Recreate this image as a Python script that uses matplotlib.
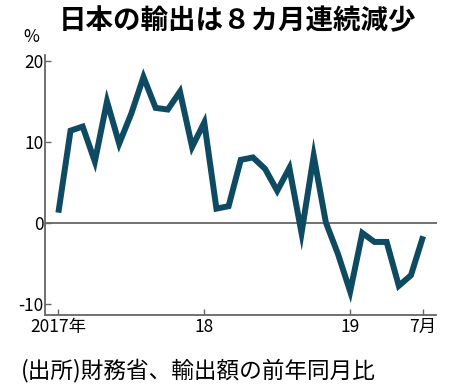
import numpy as np
import matplotlib
matplotlib.use("Agg")
import matplotlib.pyplot as plt

plt.rcParams['font.family'] = ['Noto Sans CJK JP', 'DejaVu Sans']

# ==========================
# data: export YoY change (%), Jan 2017 - Jul 2019
# ==========================
values_2017 = [1.3, 11.4, 11.9, 7.6, 15.0, 9.8, 13.5, 18.0, 14.2, 14.0, 16.2, 9.4]
values_2018 = [12.4, 1.8, 2.1, 7.8, 8.1, 6.7, 4.0, 6.8, -1.2, 8.3, 0.1, -3.8]
values_2019 = [-8.4, -1.2, -2.3, -2.3, -7.7, -6.4, -1.6]
values = values_2017 + values_2018 + values_2019
months = np.arange(len(values))

xtick_pos = [0, 12, 24, 30]
xtick_labels = ["2017年", "18", "19", "7月"]
ytick_pos = [-10, 0, 10, 20]
ytick_labels = ["-10", "0", "10", "20"]

title = "日本の輸出は８カ月連続減少"
source = "(出所)財務省、輸出額の前年同月比"

line_color = "#0f4a63"
axis_color = "#666666"

# ==========================
# figure
# ==========================
fig = plt.figure(figsize=(4.5, 3.88), dpi=100)
ax = fig.add_axes([0.1, 0.188, 0.87, 0.67])

ax.axhline(0, color=axis_color, lw=1.3, zorder=1)
ax.plot(months, values, color=line_color, lw=4.3, solid_joinstyle="miter",
        solid_capstyle="butt", zorder=3)

ax.set_xlim(-1.1, 31.1)
ax.set_ylim(-11.3, 20.7)

ax.set_xticks(xtick_pos)
ax.set_xticklabels(xtick_labels, fontsize=12.5)
ax.set_yticks(ytick_pos)
ax.set_yticklabels(ytick_labels, fontsize=12.5)
ax.tick_params(direction="in", length=4, width=1, color=axis_color, pad=2)
ax.tick_params(axis="y", pad=1)

for side in ["top", "right"]:
    ax.spines[side].set_visible(False)
for side in ["left", "bottom"]:
    ax.spines[side].set_color(axis_color)
    ax.spines[side].set_linewidth(1.3)

fig.text(0.528, 0.945, title, ha="center", va="center", fontsize=19.8,
         fontweight="bold")
fig.text(0.07, 0.905, "%", ha="center", va="center", fontsize=12.5)
fig.text(0.047, 0.045, source, ha="left", va="center", fontsize=16.3)

fig.savefig("out.png", dpi=100)
